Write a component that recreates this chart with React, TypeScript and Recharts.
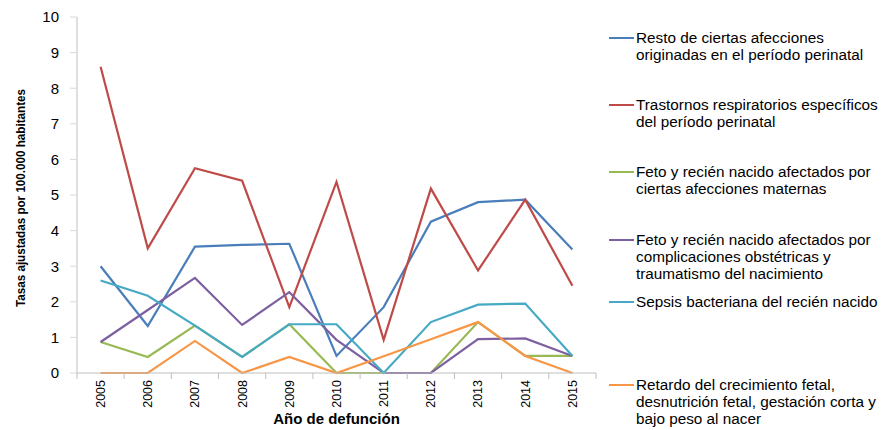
import { LineChart, Line, XAxis, YAxis, Legend } from 'recharts';

const years = ['2005', '2006', '2007', '2008', '2009', '2010', '2011', '2012', '2013', '2014', '2015'];

const resto = [3.0, 1.32, 3.55, 3.6, 3.63, 0.48, 1.85, 4.25, 4.8, 4.87, 3.47];
const trastornos = [8.6, 3.5, 5.75, 5.4, 1.85, 5.37, 0.93, 5.18, 2.88, 4.87, 2.45];
const fetoMaternas = [0.87, 0.45, 1.33, 0.45, 1.37, 0, 0, 0, 1.43, 0.48, 0.48];
const fetoObstetricas = [0.87, 1.77, 2.67, 1.35, 2.27, 0.93, 0, 0, 0.95, 0.97, 0.48];
const sepsis = [2.6, 2.17, 1.33, 0.45, 1.37, 1.37, 0, 1.43, 1.92, 1.95, 0.48];
const retardo = [0, 0, 0.9, 0, 0.45, 0, 0.47, 0.95, 1.43, 0.48, 0];

const yTicks = [0, 1, 2, 3, 4, 5, 6, 7, 8, 9, 10];

const series = [
  { key: 'resto', name: 'Resto de ciertas afecciones originadas en el período perinatal', lines: ['Resto de ciertas afecciones', 'originadas en el período perinatal'], color: '#4A7EBB', values: resto },
  { key: 'trastornos', name: 'Trastornos respiratorios específicos del período perinatal', lines: ['Trastornos respiratorios específicos', 'del período perinatal'], color: '#BE4B48', values: trastornos },
  { key: 'fetoMaternas', name: 'Feto y recién nacido afectados por ciertas afecciones maternas', lines: ['Feto y recién nacido afectados por', 'ciertas afecciones maternas'], color: '#98B954', values: fetoMaternas },
  { key: 'fetoObstetricas', name: 'Feto y recién nacido afectados por complicaciones obstétricas y traumatismo del nacimiento', lines: ['Feto y recién nacido afectados por', 'complicaciones obstétricas y', 'traumatismo del nacimiento'], color: '#7D60A0', values: fetoObstetricas },
  { key: 'sepsis', name: 'Sepsis bacteriana del recién nacido', lines: ['Sepsis bacteriana del recién nacido'], color: '#46AAC5', values: sepsis },
  { key: 'retardo', name: 'Retardo del crecimiento fetal, desnutrición fetal, gestación corta y bajo peso al nacer', lines: ['Retardo del crecimiento fetal,', 'desnutrición fetal, gestación corta y', 'bajo peso al nacer'], color: '#F79646', values: retardo },
];

const data = years.map((year, i) => {
  const row: Record<string, string | number> = { year };
  series.forEach((s) => {
    row[s.key] = s.values[i];
  });
  return row;
});

// layout constants
const legendTops = [38, 105, 172, 240, 302, 385];
const axisY = 373;
const halfBand = 23.6;
const font = 'Liberation Sans, Arial, sans-serif';

const YearTick = ({ x, payload, index }: any) => (
  <g>
    <line x1={x - halfBand} y1={axisY} x2={x - halfBand} y2={axisY + 6} stroke="#BFBFBF" />
    {index === years.length - 1 && (
      <line x1={x + halfBand} y1={axisY} x2={x + halfBand} y2={axisY + 6} stroke="#BFBFBF" />
    )}
    <g transform={`translate(${x},${axisY + 7})`}>
      <text transform="rotate(-90)" textAnchor="end" dy="0.35em" style={{ fontSize: 12.5, fontFamily: font }} fill="#000">
        {payload.value}
      </text>
    </g>
  </g>
);

const YTitle = ({ viewBox }: any) => {
  const cy = viewBox.y + viewBox.height / 2 + 3;
  return (
    <text
      x={20}
      y={cy}
      transform={`rotate(-90, 20, ${cy})`}
      textAnchor="middle"
      dy="0.35em"
      style={{ fontSize: 13, fontWeight: 'bold', fontFamily: font }}
      fill="#000"
      textLength={218}
      lengthAdjust="spacingAndGlyphs"
    >
      Tasas ajustadas por 100.000 habitantes
    </text>
  );
};

const XTitle = ({ viewBox }: any) => (
  <text
    x={viewBox.x + viewBox.width / 2}
    y={424}
    textAnchor="middle"
    style={{ fontSize: 15, fontWeight: 'bold', fontFamily: font }}
    fill="#000"
  >
    Año de defunción
  </text>
);

const CustomLegend = () => (
  <div style={{ position: 'relative', width: 287, height: 430, fontFamily: font }}>
    {series.map((s, i) => (
      <div key={s.key} style={{ position: 'absolute', left: 0, top: legendTops[i] - 9, display: 'flex', alignItems: 'flex-start' }}>
        <div style={{ width: 25, height: 2, background: s.color, marginTop: 8, marginRight: 2, flexShrink: 0 }} />
        <div style={{ fontSize: 15.3, lineHeight: '17px', color: '#000', whiteSpace: 'nowrap' }}>
          {s.lines.map((l) => (
            <div key={l}>{l}</div>
          ))}
        </div>
      </div>
    ))}
  </div>
);

const App = () => {
  return (
    <div style={{ position: 'absolute', left: 0, top: 0, width: 896, height: 430, background: '#fff' }}>
      <LineChart width={896} height={430} data={data} margin={{ top: 17, right: 300, left: 0, bottom: 0 }}>
        <XAxis
          dataKey="year"
          padding={{ left: halfBand, right: halfBand }}
          axisLine={{ stroke: '#BFBFBF' }}
          tickLine={false}
          tick={<YearTick />}
          interval={0}
          height={57}
          label={<XTitle />}
        />
        <YAxis
          domain={[0, 10]}
          ticks={yTicks}
          width={77}
          axisLine={{ stroke: '#BFBFBF' }}
          tickLine={{ stroke: '#D9D9D9' }}
          tickSize={7}
          tickMargin={11}
          tick={{ fontSize: 15, fill: '#000', fontFamily: font }}
          label={<YTitle />}
        />
        <Legend
          layout="vertical"
          align="center"
          verticalAlign="middle"
          width={287}
          wrapperStyle={{ left: 609, top: 0 }}
          content={<CustomLegend />}
        />
        {series.map((s) => (
          <Line
            key={s.key}
            type="linear"
            dataKey={s.key}
            name={s.name}
            stroke={s.color}
            strokeWidth={2.2}
            dot={false}
            activeDot={false}
            isAnimationActive={false}
          />
        ))}
      </LineChart>
    </div>
  );
};

export default App;
